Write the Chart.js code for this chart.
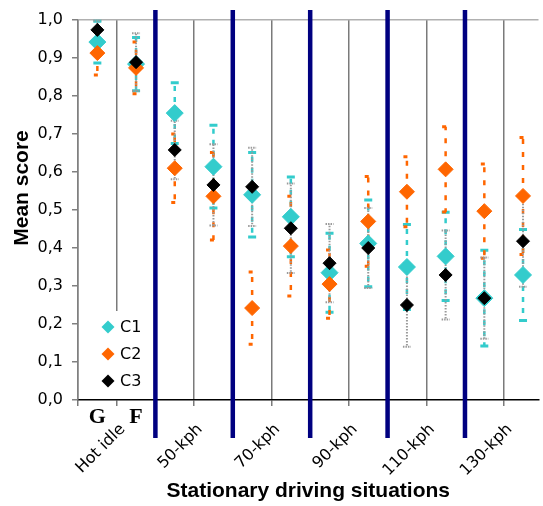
<!DOCTYPE html>
<html>
<head>
<meta charset="utf-8">
<script src="https://cdn.jsdelivr.net/npm/chart.js@4"></script>
<style>
  body { margin: 0; background: #fff; overflow: hidden; }
  #wrap { width: 543px; height: 506px; overflow: hidden; }
</style>
</head>
<body>
<!-- canvas is a few px wider than the window so the plot runs to the right edge -->
<div id="wrap"><canvas id="meanChart" width="548" height="506"></canvas></div>
<script>
// six situations, each measured under two conditions (G, F) -> 12 slots
const situations = ['Hot idle', '50-kph', '70-kph', '90-kph', '110-kph', '130-kph'];
const conditions = ['G', 'F'];
const seriesNames = ['C1', 'C2', 'C3'];

const c1Mean = [0.942, 0.884, 0.755, 0.614, 0.540, 0.482, 0.335, 0.412, 0.350, 0.378, 0.268, 0.329];
const c1Err  = [0.055, 0.070, 0.080, 0.109, 0.111, 0.105, 0.104, 0.114, 0.112, 0.116, 0.126, 0.120];
const c2Mean = [0.913, 0.874, 0.610, 0.536, 0.242, 0.405, 0.305, 0.470, 0.548, 0.607, 0.497, 0.537];
const c2Err  = [0.058, 0.068, 0.090, 0.115, 0.095, 0.131, 0.090, 0.118, 0.092, 0.112, 0.124, 0.154];
const c3Mean = [0.974, 0.889, 0.658, 0.566, 0.561, 0.452, 0.360, 0.400, 0.250, 0.329, 0.268, 0.418];
const c3Err  = [0.024, 0.076, 0.077, 0.107, 0.103, 0.118, 0.103, 0.105, 0.110, 0.117, 0.107, 0.120];

const xTicks = [0, 1, 3, 5, 7, 9, 11];   // thin grid lines (middle of each situation)
const dividers = [2, 4, 6, 8, 10];        // thick lines between situations
const yTitle = 'Mean score';

const toPoints = arr => arr.map((v, i) => ({ x: i + 0.5, y: v }));

const errorBars = {
    id: 'errorBars',
    beforeDatasetsDraw(chart) {
        const { ctx, scales: { x, y } } = chart;
        chart.data.datasets.forEach(ds => {
            const s = ds.errStyle;
            ctx.save();
            ctx.strokeStyle = s.color;
            ds.data.forEach((p, i) => {
                const px = x.getPixelForValue(p.x);
                const mid = y.getPixelForValue(p.y);
                const top = y.getPixelForValue(p.y + ds.errors[i]);
                const bot = y.getPixelForValue(p.y - ds.errors[i]);
                ctx.lineWidth = s.width;
                ctx.setLineDash(s.dash);
                ctx.beginPath();
                ctx.moveTo(px, mid); ctx.lineTo(px, top);
                ctx.moveTo(px, mid); ctx.lineTo(px, bot);
                ctx.stroke();
                ctx.setLineDash(s.capDash);
                ctx.lineWidth = s.capWidth;
                ctx.beginPath();
                ctx.moveTo(px - s.cap, top); ctx.lineTo(px + s.cap, top);
                ctx.moveTo(px - s.cap, bot); ctx.lineTo(px + s.cap, bot);
                ctx.stroke();
            });
            ctx.restore();
        });
    }
};

const decorations = {
    id: 'decorations',
    afterDatasetsDraw(chart) {
        const { ctx, chartArea: a, scales: { x } } = chart;
        ctx.save();
        // legend box
        ctx.fillStyle = '#fff';
        ctx.fillRect(a.left + 13, a.bottom - 89, 56, 88);
        ctx.font = '16px "DejaVu Sans"';
        ctx.textBaseline = 'middle';
        chart.data.datasets.forEach((ds, i) => {
            const cy = a.bottom - 73 + i * 27;
            const cx = a.left + 30;
            const r = 6.5;
            ctx.fillStyle = ds.backgroundColor;
            ctx.beginPath();
            ctx.moveTo(cx, cy - r); ctx.lineTo(cx + r, cy); ctx.lineTo(cx, cy + r); ctx.lineTo(cx - r, cy);
            ctx.closePath(); ctx.fill();
            ctx.fillStyle = '#000';
            ctx.fillText(ds.label, cx + 12, cy + 1);
        });
        // G / F condition labels under the first situation
        ctx.font = 'bold 22px "Liberation Serif"';
        ctx.textAlign = 'center';
        ctx.fillStyle = '#000';
        conditions.forEach((c, i) => ctx.fillText(c, x.getPixelForValue(i + 0.5), a.bottom + 17));
        // y axis title, sits a little above the middle of the axis
        ctx.save();
        ctx.translate(22, a.top + 168);
        ctx.rotate(-Math.PI / 2);
        ctx.font = 'bold 21px "Liberation Sans"';
        ctx.fillText(yTitle, 0, 0);
        ctx.restore();
        // thick dividers
        ctx.strokeStyle = '#000080';
        ctx.lineWidth = 4.5;
        dividers.forEach(v => {
            const px = x.getPixelForValue(v);
            ctx.beginPath();
            ctx.moveTo(px, a.top - 10);
            ctx.lineTo(px, a.bottom + 38);
            ctx.stroke();
        });
        ctx.restore();
    }
};

new Chart(document.getElementById('meanChart'), {
    type: 'scatter',
    data: {
        datasets: [
            {
                label: seriesNames[0], data: toPoints(c1Mean), errors: c1Err, order: 3,
                backgroundColor: '#33CCCC', borderColor: '#33CCCC', pointRadius: 8.5, borderWidth: 1,
                pointStyle: 'rectRot',
                errStyle: { color: '#33CCCC', width: 2.5, dash: [5, 6], cap: 4, capWidth: 3, capDash: [] }
            },
            {
                label: seriesNames[1], data: toPoints(c2Mean), errors: c2Err, order: 2,
                backgroundColor: '#FF6600', borderColor: '#FF6600', pointRadius: 7.5, borderWidth: 1,
                pointStyle: 'rectRot',
                errStyle: { color: '#FF6600', width: 2.5, dash: [5, 8], cap: 3.5, capWidth: 3, capDash: [4, 8] }
            },
            {
                label: seriesNames[2], data: toPoints(c3Mean), errors: c3Err, order: 1,
                backgroundColor: '#000000', borderColor: '#000000', pointRadius: 6.5, borderWidth: 1,
                pointStyle: 'rectRot',
                errStyle: { color: '#9a9a9a', width: 2, dash: [1.5, 1.5], cap: 4, capWidth: 2, capDash: [1.5, 1] }
            }
        ]
    },
    options: {
        responsive: false,
        animation: false,
        layout: { padding: { top: 20, right: 0, left: 0, bottom: 0 } },
        plugins: { legend: { display: false }, tooltip: { enabled: false } },
        scales: {
            x: {
                type: 'linear',
                min: 0,
                max: 11.9,
                afterFit: s => { s.height = 106; s.paddingRight = 0; s.paddingLeft = 0; },
                afterBuildTicks: s => { s.ticks = xTicks.map(v => ({ value: v })); },
                grid: { color: '#7a7a7a', lineWidth: 1.5, tickLength: 6 },
                border: { color: '#000', width: 1.5 },
                ticks: {
                    autoSkip: false,
                    minRotation: 45,
                    maxRotation: 45,
                    labelOffset: 6,
                    padding: 14,
                    color: '#000',
                    font: { family: '"DejaVu Sans"', size: 16 },
                    callback: v => (v % 2 === 1 ? situations[(v - 1) / 2] : '')
                },
                title: {
                    display: true,
                    text: 'Stationary driving situations',
                    color: '#000',
                    font: { family: '"Liberation Sans"', size: 21, weight: 'bold' },
                    padding: { top: 0, bottom: 2 }
                }
            },
            y: {
                min: 0,
                max: 1,
                afterFit: s => { s.width = 78; },
                grid: {
                    color: c => (c.tick && c.tick.value > 0.99 ? '#b0b0b0' : 'transparent'),
                    tickColor: '#808080',
                    lineWidth: 1.5,
                    tickLength: 6
                },
                border: { color: '#808080', width: 1.5 },
                ticks: {
                    stepSize: 0.1,
                    padding: 9,
                    color: '#000',
                    font: { family: '"DejaVu Sans"', size: 16 },
                    callback: v => v.toFixed(1).replace('.', ',')
                }
            }
        }
    },
    plugins: [errorBars, decorations]
});
</script>
</body>
</html>
